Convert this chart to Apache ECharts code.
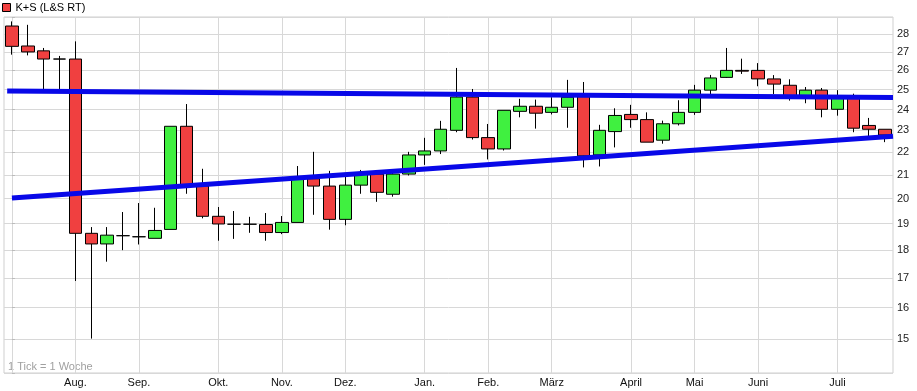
<!DOCTYPE html>
<html><head><meta charset="utf-8">
<script src="https://cdn.jsdelivr.net/npm/echarts@6/dist/echarts.min.js"></script>
<style>html,body{margin:0;padding:0;background:#fff}#c{width:917px;height:391px}</style>
</head><body><div id="c"></div>
<script>
// weekly candles, first week of July to last week of July next year
const weeks = Array.from({length: 56}, (_, i) => 'W' + (i + 1));
const openV  = [28.47,27.33,27.06,26.61,26.61,18.63,18.23,18.54,18.50,18.44,18.78,23.19,20.53,19.29,18.98,18.98,18.97,18.66,19.05,20.83,20.52,19.17,20.56,21.03,20.18,21.03,21.87,22.05,23.00,24.62,22.66,22.14,23.91,24.16,23.86,24.11,24.64,21.87,22.94,23.76,23.51,22.54,23.31,23.86,24.97,25.63,26.00,26.00,25.55,25.22,24.64,24.97,24.01,24.64,23.23,23.05];
const closeV = [27.31,27.00,26.61,26.61,18.63,18.23,18.56,18.54,18.50,18.74,23.19,20.53,19.29,18.99,18.98,18.98,18.66,19.05,20.83,20.52,19.17,20.56,21.03,20.26,21.03,21.87,22.05,23.05,24.62,22.66,22.14,23.96,24.16,23.82,24.11,24.61,21.83,23.00,23.71,23.51,22.45,23.31,23.86,24.97,25.60,26.00,25.96,25.55,25.28,24.68,24.97,24.01,24.64,23.10,23.05,22.78];
const lowV   = [26.85,26.81,25.03,25.03,16.90,15.02,17.58,18.00,18.21,18.44,18.78,20.20,19.21,18.35,18.42,18.65,18.35,18.60,19.05,19.35,18.77,18.94,20.20,19.87,20.08,20.97,21.43,21.91,22.91,22.57,21.67,22.07,23.62,23.08,23.76,23.12,21.32,21.36,22.21,23.12,22.45,22.38,23.23,23.74,24.77,25.60,25.81,25.17,24.77,24.44,24.31,23.62,23.70,22.91,22.71,22.45];
const highV  = [28.74,28.54,27.22,26.78,27.59,18.87,18.87,19.46,19.82,19.63,23.19,24.27,21.26,19.66,19.50,19.27,19.42,19.30,21.38,22.01,21.17,20.91,21.21,21.10,21.10,22.01,22.65,23.45,26.13,25.03,23.30,23.96,24.53,24.49,24.61,25.50,25.39,23.26,24.06,24.23,23.86,23.46,24.46,25.24,25.76,27.22,26.63,26.39,25.75,25.53,25.13,25.08,24.97,24.79,23.59,23.05];
const monthTicks  = [0, 4, 8, 13, 17, 21, 26, 30, 34, 39, 43, 47, 52];
const monthLabels = ['', 'Aug.', 'Sep.', 'Okt.', 'Nov.', 'Dez.', 'Jan.', 'Feb.', 'März', 'April', 'Mai', 'Juni', 'Juli'];
const yLabels = [15,16,17,18,19,20,21,22,23,24,25,26,27,28];
const yGrid   = [14,15,16,17,18,19,20,21,22,23,24,25,26,27,28,29];
const upperTrend = [[-0.3, 24.93], [55.5, 24.60]];
const lowerTrend = [[0, 20.03], [55.5, 22.72]];

const FONT = "'Liberation Sans', Arial, sans-serif";
const candles = weeks.map((w, i) => [openV[i], closeV[i], lowV[i], highV[i]]);
const chart = echarts.init(document.getElementById('c'), null, {renderer: 'canvas'});
chart.setOption({
  animation: false,
  backgroundColor: '#fff',
  grid: {left: 4, top: 17, width: 889, height: 356, show: true, borderColor: '#cfcfcf', borderWidth: 1},
  legend: {
    left: 2, top: 2, itemWidth: 8, itemHeight: 8, itemGap: 6, padding: 0,
    textStyle: {fontFamily: FONT, fontSize: 11, color: '#000'},
    data: [{name: 'K+S (L&S RT)', icon: 'rect', itemStyle: {color: '#f04040', borderColor: '#000', borderWidth: 1}}]
  },
  graphic: [{type: 'text', left: 8, top: 361, style: {text: '1 Tick = 1 Woche', fill: '#a0a0a0', font: '11px ' + FONT}}],
  xAxis: [
    {type: 'category', data: weeks, show: false, boundaryGap: true},
    {type: 'value', min: -0.5, max: 55.5, position: 'bottom',
     axisLine: {show: false}, axisTick: {show: false, customValues: monthTicks},
     splitLine: {show: true, lineStyle: {color: '#d8d8d8', width: 1}},
     axisLabel: {customValues: monthTicks.slice(1), margin: 4, color: '#111', fontFamily: FONT, fontSize: 11,
       formatter: v => monthLabels[monthTicks.indexOf(Math.round(v))] || ''}}
  ],
  yAxis: {
    type: 'log', logBase: 10, min: 14, max: 29, position: 'right',
    axisLine: {show: false},
    axisTick: {show: true, length: 3, customValues: yGrid, lineStyle: {color: '#bbb'}},
    splitLine: {show: true, lineStyle: {color: '#d8d8d8', width: 1}},
    axisLabel: {customValues: yLabels, margin: 4, color: '#222', fontFamily: FONT, fontSize: 11, formatter: v => String(Math.round(v))}
  },
  series: [
    {name: 'K+S (L&S RT)', type: 'candlestick', xAxisIndex: 0, yAxisIndex: 0, barWidth: 13, data: candles,
     itemStyle: {color: '#40f040', color0: '#f04040', borderColor: '#000', borderColor0: '#000', borderColorDoji: '#000', borderWidth: 1}},
    {name: 'upper', type: 'line', xAxisIndex: 1, yAxisIndex: 0, data: upperTrend, symbol: 'none', silent: true, z: 5,
     lineStyle: {color: '#0808e8', width: 5}},
    {name: 'lower', type: 'line', xAxisIndex: 1, yAxisIndex: 0, data: lowerTrend, symbol: 'none', silent: true, z: 5,
     lineStyle: {color: '#0808e8', width: 5}}
  ]
});
</script></body></html>
